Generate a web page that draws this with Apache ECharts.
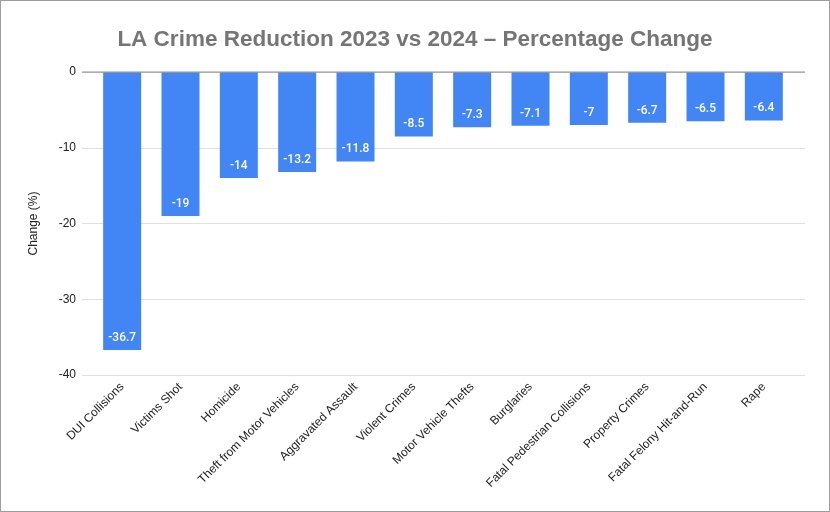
<!DOCTYPE html>
<html><head><meta charset="utf-8">
<script src="https://cdn.jsdelivr.net/npm/echarts@6/dist/echarts.min.js"></script>
<style>html,body{margin:0;padding:0;background:#fff}#c{width:828px;height:510px;border:1px solid #9e9e9e}</style>
</head><body><div id="c"></div>
<script>
const categories = ["DUI Collisions","Victims Shot","Homicide","Theft from Motor Vehicles","Aggravated Assault","Violent Crimes","Motor Vehicle Thefts","Burglaries","Fatal Pedestrian Collisions","Property Crimes","Fatal Felony Hit-and-Run","Rape"];
const values = [-36.7,-19,-14,-13.2,-11.8,-8.5,-7.3,-7.1,-7,-6.7,-6.5,-6.4];
const yTicks = [0,-10,-20,-30,-40];

const chart = echarts.init(document.getElementById('c'));
chart.setOption({
  animation:false,
  title:{text:'LA Crime Reduction 2023 vs 2024 – Percentage Change',left:'center',top:22,
    textStyle:{fontFamily:'Liberation Sans',fontWeight:'bold',fontSize:22.5,color:'#757575'}},
  grid:[{left:81,right:24,top:71,bottom:136},{left:92,right:36,top:71,bottom:136}],
  xAxis:[
    {gridIndex:0,type:'value',min:0,max:1,show:true,axisLabel:{show:false},axisTick:{show:false},splitLine:{show:false},axisLine:{show:false}},
    {gridIndex:1,type:'category',data:categories,position:'bottom',
      axisLine:{show:false},axisTick:{show:false},
      axisLabel:{rotate:45,interval:0,margin:10,fontFamily:'Liberation Sans',fontSize:12,color:'#222'}}
  ],
  yAxis:[
    {gridIndex:0,type:'value',min:-40,max:0,interval:10,
      name:'Change (%)',nameLocation:'middle',nameGap:42,nameTextStyle:{fontFamily:'Liberation Sans',fontSize:12,color:'#222'},
      axisLabel:{fontFamily:'Liberation Sans',fontSize:12,color:'#222',margin:6,
        formatter:v=>yTicks.includes(v)?String(v):''},
      axisLine:{show:false},axisTick:{show:false},splitLine:{lineStyle:{color:'#e0e0e0'}}},
    {gridIndex:1,type:'value',min:-40,max:0,interval:10,show:false,splitLine:{show:false}}
  ],
  series:[
    {type:'line',xAxisIndex:0,yAxisIndex:0,data:[[0,0],[1,0]],symbol:'none',silent:true,
      lineStyle:{color:'#9e9e9e',width:1.5},z:5},
    {type:'bar',xAxisIndex:1,yAxisIndex:1,data:values,barWidth:38,
      itemStyle:{color:'#4285f4'},
      label:{show:true,position:'insideBottom',distance:6,color:'#fff',fontFamily:'Roboto',fontWeight:500,fontSize:12}}
  ]
});
</script></body></html>
